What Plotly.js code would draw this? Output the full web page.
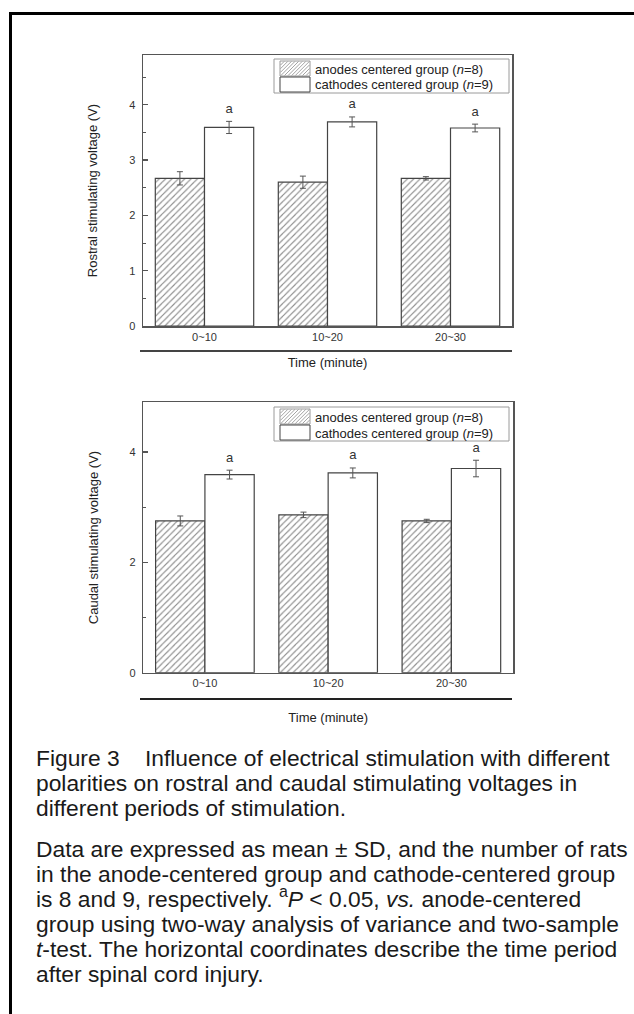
<!DOCTYPE html>
<html>
<head>
<meta charset="utf-8">
<script src="https://cdn.plot.ly/plotly-3.0.1.min.js"></script>
<style>
  html, body { margin: 0; padding: 0; background: #ffffff; }
  #chart { width: 634px; height: 1014px; position: absolute; left: 0; top: 0; }
  #frame { position: absolute; left: 9px; top: 12px; width: 700px; height: 1100px;
           border-left: 3px solid #000; border-top: 3px solid #000; pointer-events: none; }
</style>
</head>
<body>
<div id="chart"></div>
<div id="frame"></div>
<script>
// ---- data ----
const categories = ['0~10', '10~20', '20~30'];
const anodeName = 'anodes centered group (<i>n</i>=8)';
const cathodeName = 'cathodes centered group (<i>n</i>=9)';

const rostralAnode = [2.67, 2.60, 2.67];
const rostralAnodeSD = [0.12, 0.11, 0.03];
const rostralCathode = [3.59, 3.69, 3.58];
const rostralCathodeSD = [0.11, 0.09, 0.07];

const caudalAnode = [2.75, 2.86, 2.75];
const caudalAnodeSD = [0.09, 0.05, 0.03];
const caudalCathode = [3.59, 3.62, 3.70];
const caudalCathodeSD = [0.08, 0.09, 0.15];

const sigLabels = ['a', 'a', 'a'];

const rostralTitle = 'Rostral stimulating voltage (V)';
const caudalTitle = 'Caudal stimulating voltage (V)';
const xTitle = 'Time (minute)';

const captionLines1 = [
  'Figure 3\u00a0\u00a0\u00a0\u00a0Influence of electrical stimulation with different',
  'polarities on rostral and caudal stimulating voltages in',
  'different periods of stimulation.'
];
const captionLines2 = [
  'Data are expressed as mean \u00b1 SD, and the number of rats',
  'in the anode-centered group and cathode-centered group',
  'is 8 and 9, respectively. <sup>a</sup><i>P</i> &lt; 0.05, <i>vs.</i> anode-centered',
  'group using two-way analysis of variance and two-sample',
  '<i>t</i>-test. The horizontal coordinates describe the time period',
  'after spinal cord injury.'
];

// ---- styling helpers ----
const FONT = 'Liberation Sans, Arial, Helvetica, sans-serif';
const W = 634, H = 1014;
const px = v => v / W;
const py = v => 1 - v / H;
const HATCH = '#8c8c8c';

function anodeTrace(y, sd, xa, ya) {
  return {
    type: 'bar', x: categories, y: y, name: anodeName,
    xaxis: xa, yaxis: ya, showlegend: false,
    marker: { color: '#ffffff', line: { color: '#444444', width: 1.2 },
      pattern: { shape: '/', fgcolor: HATCH, bgcolor: '#ffffff', size: 4.5, solidity: 0.25 } },
    error_y: { type: 'data', array: sd, visible: true, color: '#555555', thickness: 1, width: 3 },
    hoverinfo: 'x+y'
  };
}
function cathodeTrace(y, sd, xa, ya) {
  return {
    type: 'bar', x: categories, y: y, name: cathodeName,
    xaxis: xa, yaxis: ya, showlegend: false,
    marker: { color: '#ffffff', line: { color: '#444444', width: 1.2 } },
    error_y: { type: 'data', array: sd, visible: true, color: '#555555', thickness: 1, width: 3 },
    hoverinfo: 'x+y'
  };
}
function sigTrace(y, sd, xa, ya) {
  return {
    type: 'scatter', mode: 'markers+text', x: categories,
    y: y.map((v, i) => v + sd[i]), text: sigLabels,
    marker: { size: 7, color: 'rgba(0,0,0,0)' },
    textposition: 'top center', textfont: { family: FONT, size: 13, color: '#333333' },
    xaxis: xa, yaxis: ya, showlegend: false, hoverinfo: 'skip', cliponaxis: false
  };
}

const traces = [
  anodeTrace(rostralAnode, rostralAnodeSD, 'x', 'y'),
  cathodeTrace(rostralCathode, rostralCathodeSD, 'x', 'y'),
  anodeTrace(caudalAnode, caudalAnodeSD, 'x2', 'y2'),
  cathodeTrace(caudalCathode, caudalCathodeSD, 'x2', 'y2'),
  // significance labels above the cathode bars (overlay axes shift them to the right half of each group)
  sigTrace(rostralCathode, rostralCathodeSD, 'x3', 'y'),
  sigTrace(caudalCathode, caudalCathodeSD, 'x4', 'y2')
];

const xBase = {
  type: 'category', range: [-0.5, 2.5], showline: true, mirror: true,
  linecolor: '#555555', linewidth: 1.5, ticks: '', showgrid: false, zeroline: false,
  tickfont: { family: FONT, size: 11, color: '#333333' }
};
function yBase(dtick, minorDtick, title) {
  return {
    range: [0, 4.9], dtick: dtick, tick0: 0, showline: true, mirror: true,
    linecolor: '#555555', linewidth: 1.5, ticks: 'inside', ticklen: 5, tickwidth: 1.2,
    tickcolor: '#555555', showgrid: false, zeroline: false, ticklabelstandoff: 4,
    minor: { dtick: minorDtick, ticks: 'inside', ticklen: 3, tickcolor: '#555555', tickwidth: 1, showgrid: false },
    tickfont: { family: FONT, size: 11, color: '#333333' },
    title: { text: title, font: { family: FONT, size: 13, color: '#222222' }, standoff: 28 }
  };
}

// ---- caption lines (anchored at the bottom so every baseline is even) ----
const annotations = [];
function addLine(text, baseline) {
  annotations.push({
    xref: 'paper', yref: 'paper', x: px(34), y: py(baseline + 8.5),
    xanchor: 'left', yanchor: 'bottom', showarrow: false, align: 'left',
    text: text, font: { family: FONT, size: 22.8, color: '#1a1a1a' }
  });
}
captionLines1.forEach((t, i) => addLine(t, 764 + 25 * i));
captionLines2.forEach((t, i) => addLine(t, 855 + 25 * i));

// ---- boxed legends (drawn as shapes + text) ----
const shapes = [
  { type: 'line', xref: 'paper', yref: 'paper', x0: px(140), x1: px(512), y0: py(351), y1: py(351),
    line: { color: '#444444', width: 2 } },
  { type: 'line', xref: 'paper', yref: 'paper', x0: px(140), x1: px(512), y0: py(699), y1: py(699),
    line: { color: '#222222', width: 2 } }
];
function rectShape(x0, y0, x1, y1, lineColor) {
  return { type: 'rect', xref: 'paper', yref: 'paper', layer: 'above',
    x0: px(x0), x1: px(x1), y0: py(y1), y1: py(y0),
    fillcolor: '#ffffff', line: { color: lineColor, width: 1 } };
}
function hatchPath(x0, y0, x1, y1, step) {
  const h = y1 - y0;
  let d = '';
  for (let k = x0 - h; k < x1; k += step) {
    let sx = k, sy = y1, ex = k + h, ey = y0;
    if (sx < x0) { sy = y1 - (x0 - sx); sx = x0; }
    if (ex > x1) { ey = y0 + (ex - x1); ex = x1; }
    if (ex <= sx) continue;
    d += 'M' + px(sx).toFixed(5) + ',' + py(sy).toFixed(5) + 'L' + px(ex).toFixed(5) + ',' + py(ey).toFixed(5);
  }
  return { type: 'path', xref: 'paper', yref: 'paper', layer: 'above', path: d,
    line: { color: HATCH, width: 0.8 } };
}
function addLegend(top) {
  shapes.push(rectShape(274, top, 509, top + 34, '#9a9a9a'));
  shapes.push(rectShape(280, top + 2, 310, top + 17, '#9a9a9a'));
  shapes.push(hatchPath(280.5, top + 2.5, 309.5, top + 16.5, 3.6));
  shapes.push(rectShape(280, top + 18, 310, top + 33, '#444444'));
  [anodeName, cathodeName].forEach((name, i) => {
    annotations.push({
      xref: 'paper', yref: 'paper', x: px(313), y: py(top + 10 + 16 * i),
      xanchor: 'left', yanchor: 'middle', showarrow: false, align: 'left',
      text: name, font: { family: FONT, size: 13, color: '#222222' }
    });
  });
}
addLegend(59);
addLegend(407);

const layout = {
  width: W, height: H,
  margin: { l: 0, r: 0, t: 0, b: 0 },
  paper_bgcolor: '#ffffff', plot_bgcolor: '#ffffff',
  barmode: 'group', bargap: 0.2, bargroupgap: 0,
  showlegend: false,
  font: { family: FONT, color: '#333333' },
  xaxis: Object.assign({}, xBase, { domain: [px(143), px(512)], anchor: 'y',
    title: { text: xTitle, font: { family: FONT, size: 13, color: '#222222' }, standoff: 16 } }),
  yaxis: Object.assign(yBase(1, 0.5, rostralTitle), { domain: [py(326), py(55)], anchor: 'x' }),
  xaxis2: Object.assign({}, xBase, { domain: [px(143.3), px(513)], anchor: 'y2',
    title: { text: xTitle, font: { family: FONT, size: 13, color: '#222222' }, standoff: 24 } }),
  yaxis2: Object.assign(yBase(2, 1, caudalTitle), { domain: [py(672.7), py(402.3)], anchor: 'x2' }),
  xaxis3: { type: 'category', range: [-0.7, 2.3], overlaying: 'x', anchor: 'y', visible: false, categoryarray: categories },
  xaxis4: { type: 'category', range: [-0.7, 2.3], overlaying: 'x2', anchor: 'y2', visible: false, categoryarray: categories },
  shapes: shapes,
  annotations: annotations
};

Plotly.newPlot('chart', traces, layout, { displayModeBar: false, staticPlot: true });
</script>
</body>
</html>
